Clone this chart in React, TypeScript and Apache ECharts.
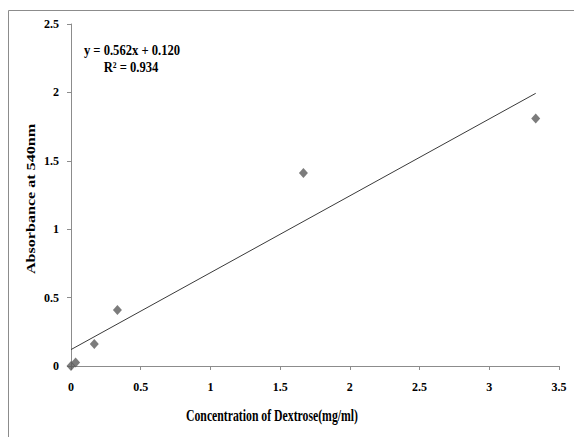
import React, { useEffect, useRef } from "react";
import * as echarts from "echarts";

const concentration = [0, 0.033, 0.167, 0.333, 1.667, 3.333];
const absorbance = [0, 0.025, 0.16, 0.41, 1.41, 1.81];
const slope = 0.562;
const intercept = 0.12;
const rSquared = 0.934;
const xTicks = [0, 0.5, 1, 1.5, 2, 2.5, 3, 3.5];
const yTicks = [0, 0.5, 1, 1.5, 2, 2.5];
const xTitle = "Concentration of Dextrose(mg/ml)";
const yTitle = "Absorbance at 540nm";

const FONT = "Liberation Serif";

export default function App() {
  const ref = useRef<HTMLDivElement>(null);
  useEffect(() => {
    if (!ref.current) return;
    const chart = echarts.init(ref.current, null, { renderer: "svg" });
    const points = concentration.map((x, i) => [x, absorbance[i]]);
    const xMax = Math.max(...concentration);
    const trend = [
      [0, intercept],
      [xMax, slope * xMax + intercept],
    ];
    const textStyle = (text: string, size: number) => ({
      text,
      font: `bold ${size}px "${FONT}"`,
      fill: "#000",
      align: "center",
      verticalAlign: "middle",
    });
    chart.setOption({
      animation: false,
      backgroundColor: "#ffffff",
      grid: { left: 71, top: 24, right: 15, bottom: 71 },
      graphic: [
        {
          type: "rect",
          shape: { x: 8.5, y: 10.5, width: 700, height: 600 },
          style: { fill: "none", stroke: "#8c8c8c", lineWidth: 1 },
          silent: true,
        },
        {
          type: "text",
          x: 132,
          y: 50,
          scaleX: 0.9,
          scaleY: 1.05,
          style: textStyle(`y = ${slope.toFixed(3)}x + ${intercept.toFixed(3)}`, 14),
        },
        {
          type: "text",
          x: 131,
          y: 67,
          scaleX: 0.9,
          scaleY: 1.05,
          style: textStyle(`R² = ${rSquared.toFixed(3)}`, 14),
        },
        {
          type: "text",
          x: 272,
          y: 415,
          scaleX: 0.84,
          scaleY: 1.15,
          style: textStyle(xTitle, 14),
        },
        {
          type: "text",
          x: 31,
          y: 199,
          rotation: Math.PI / 2,
          scaleX: 1.15,
          scaleY: 0.88,
          style: textStyle(yTitle, 14),
        },
      ],
      xAxis: {
        type: "value",
        min: xTicks[0],
        max: xTicks[xTicks.length - 1],
        interval: 0.5,
        axisLine: { show: true, lineStyle: { color: "#8c8c8c", width: 1 } },
        axisTick: { show: true, inside: false, length: 4, lineStyle: { color: "#8c8c8c" } },
        axisLabel: { fontFamily: FONT, fontWeight: "bold", fontSize: 12, color: "#000", margin: 15 },
        splitLine: { show: false },
      },
      yAxis: {
        type: "value",
        min: yTicks[0],
        max: yTicks[yTicks.length - 1],
        interval: 0.5,
        axisLine: { show: true, lineStyle: { color: "#8c8c8c", width: 1 } },
        axisTick: { show: true, inside: false, length: 4, lineStyle: { color: "#8c8c8c" } },
        axisLabel: { fontFamily: FONT, fontWeight: "bold", fontSize: 12, color: "#000", margin: 12 },
        splitLine: { show: false },
      },
      series: [
        {
          type: "line",
          data: trend,
          showSymbol: false,
          symbol: "none",
          lineStyle: { color: "#3a3a3a", width: 1 },
          z: 2,
        },
        {
          type: "scatter",
          data: points,
          symbol: "diamond",
          symbolSize: [9, 10],
          itemStyle: { color: "#5b5b5b" },
          z: 3,
        },
      ],
    });
    return () => chart.dispose();
  }, []);
  return (
    <div
      ref={ref}
      style={{ position: "absolute", left: 0, top: 0, width: 574, height: 437 }}
    />
  );
}
